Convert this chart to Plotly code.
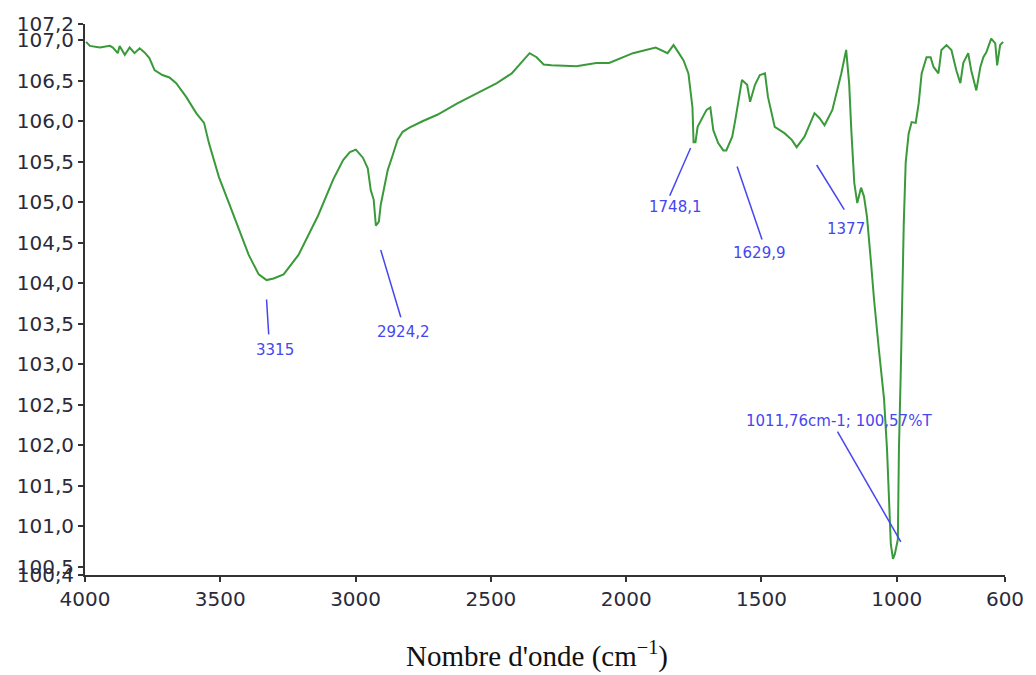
import plotly.graph_objects as go

# Spectrum (wavenumber cm-1, %T)
wavenumber = [3996, 3982, 3945, 3908, 3897, 3879, 3872, 3853, 3835, 3817, 3798, 3780, 3762, 3743,
              3714, 3688, 3663, 3626, 3589, 3560, 3542, 3505, 3468, 3431, 3395, 3358, 3329, 3303,
              3266, 3211, 3175, 3138, 3083, 3046, 3021, 2999, 2973, 2955, 2944, 2933, 2925, 2914,
              2907, 2892, 2881, 2863, 2845, 2826, 2801, 2753, 2698, 2624, 2551, 2478, 2423, 2386,
              2357, 2331, 2305, 2276, 2184, 2111, 2063, 1975, 1891, 1847, 1825, 1807, 1788, 1770,
              1755, 1751, 1744, 1736, 1718, 1703, 1689, 1678, 1660, 1641, 1630, 1608, 1597, 1572,
              1553, 1542, 1524, 1506, 1487, 1476, 1451, 1414, 1388, 1370, 1341, 1304, 1286, 1267,
              1238, 1205, 1187, 1176, 1168, 1157, 1146, 1132, 1121, 1110, 1095, 1084, 1066, 1047,
              1036, 1029, 1022, 1014, 1007, 996, 992, 985, 981, 974, 967, 956, 945, 930, 919, 908,
              890, 875, 864, 846, 835, 816, 798, 780, 765, 754, 736, 725, 706, 691, 680, 669, 651,
              636, 629, 618, 607]
transmittance = [106.98, 106.93, 106.91, 106.93, 106.91, 106.84, 106.93, 106.82, 106.91, 106.84,
                 106.90, 106.85, 106.78, 106.63, 106.57, 106.54, 106.47, 106.30, 106.10, 105.98,
                 105.73, 105.31, 104.99, 104.66, 104.35, 104.11, 104.04, 104.06, 104.11, 104.35,
                 104.60, 104.84, 105.28, 105.52, 105.62, 105.65, 105.55, 105.42, 105.15, 105.03,
                 104.71, 104.76, 104.97, 105.21, 105.40, 105.58, 105.77, 105.87, 105.92, 106.00,
                 106.08, 106.22, 106.35, 106.47, 106.59, 106.73, 106.84, 106.79, 106.70, 106.69,
                 106.68, 106.72, 106.72, 106.84, 106.91, 106.84, 106.94, 106.85, 106.75, 106.59,
                 106.17, 105.74, 105.74, 105.93, 106.05, 106.14, 106.17, 105.89, 105.73, 105.64,
                 105.64, 105.81, 106.01, 106.51, 106.45, 106.24, 106.45, 106.57, 106.59, 106.30,
                 105.93, 105.85, 105.77, 105.68, 105.81, 106.10, 106.04, 105.95, 106.14, 106.59,
                 106.88, 106.47, 105.89, 105.24, 104.99, 105.18, 105.07, 104.82, 104.25, 103.80,
                 103.18, 102.57, 101.95, 101.33, 100.78, 100.60, 100.66, 100.84, 101.95, 102.94,
                 103.80, 104.75, 105.49, 105.85, 105.99, 105.98, 106.22, 106.59, 106.79, 106.79,
                 106.67, 106.59, 106.88, 106.94, 106.88, 106.63, 106.47, 106.72, 106.84, 106.63,
                 106.38, 106.67, 106.79, 106.85, 107.02, 106.96, 106.69, 106.94, 106.98]

y_tick_vals = [100.4, 100.5, 101.0, 101.5, 102.0, 102.5, 103.0, 103.5, 104.0, 104.5, 105.0,
               105.5, 106.0, 106.5, 107.0, 107.2]
y_tick_text = ["100,4", "100,5", "101,0", "101,5", "102,0", "102,5", "103,0", "103,5", "104,0",
               "104,5", "105,0", "105,5", "106,0", "106,5", "107,0", "107,2"]
x_tick_vals = [4000, 3500, 3000, 2500, 2000, 1500, 1000, 600]

# Peak labels: text, leader line start (x, y), leader line end (x, y), label position (x, y)
peak_labels = ["3315", "2924,2", "1748,1", "1629,9", "1377", "1011,76cm-1; 100,57%T"]
line_x0 = [3329, 2907, 1762, 1590, 1296, 1219]
line_y0 = [103.80, 104.41, 105.67, 105.44, 105.46, 102.17]
line_x1 = [3321, 2833, 1839, 1498, 1194, 985]
line_y1 = [103.37, 103.58, 105.08, 104.54, 104.91, 100.81]
label_x = [3299, 2822, 1817, 1506, 1186, 1212]
label_y = [103.18, 103.40, 104.94, 104.38, 104.67, 102.30]

GREEN = "#3a9a3a"
BLUE = "#4646f0"
AXIS = "#333333"

fig = go.Figure()
fig.add_trace(go.Scatter(x=wavenumber, y=transmittance, mode="lines",
                         line=dict(color=GREEN, width=2), showlegend=False,
                         hoverinfo="x+y"))

for i, txt in enumerate(peak_labels):
    fig.add_shape(type="line", xref="x", yref="y",
                  x0=line_x0[i], y0=line_y0[i], x1=line_x1[i], y1=line_y1[i],
                  line=dict(color=BLUE, width=1.5))
    fig.add_annotation(x=label_x[i], y=label_y[i], xref="x", yref="y", text=txt,
                       showarrow=False, font=dict(family="DejaVu Sans", size=15, color=BLUE))

fig.add_annotation(x=0.491, y=-0.145, xref="paper", yref="paper",
                   text="Nombre d'onde (cm<sup>−1</sup>)", showarrow=False,
                   font=dict(family="Liberation Serif", size=29, color="#111111"),
                   xanchor="center", yanchor="middle")

fig.update_xaxes(range=[4000, 600], tickvals=x_tick_vals,
                 ticktext=[str(v) for v in x_tick_vals],
                 showgrid=False, zeroline=False, showline=True, linecolor=AXIS, linewidth=2,
                 ticks="outside", ticklen=5, tickwidth=1.5, tickcolor=AXIS,
                 tickfont=dict(family="DejaVu Sans", size=20, color="#2a2a3a"))
fig.update_yaxes(range=[100.4, 107.2], tickvals=y_tick_vals, ticktext=y_tick_text,
                 showgrid=False, zeroline=False, showline=True, linecolor=AXIS, linewidth=2,
                 ticks="outside", ticklen=5, tickwidth=1.5, tickcolor=AXIS,
                 tickfont=dict(family="DejaVu Sans", size=20, color="#2a2a3a"))

fig.update_layout(width=1036, height=675, margin=dict(l=85, r=24, t=22, b=100),
                  plot_bgcolor="white", paper_bgcolor="white")

fig.write_html("out.html")
